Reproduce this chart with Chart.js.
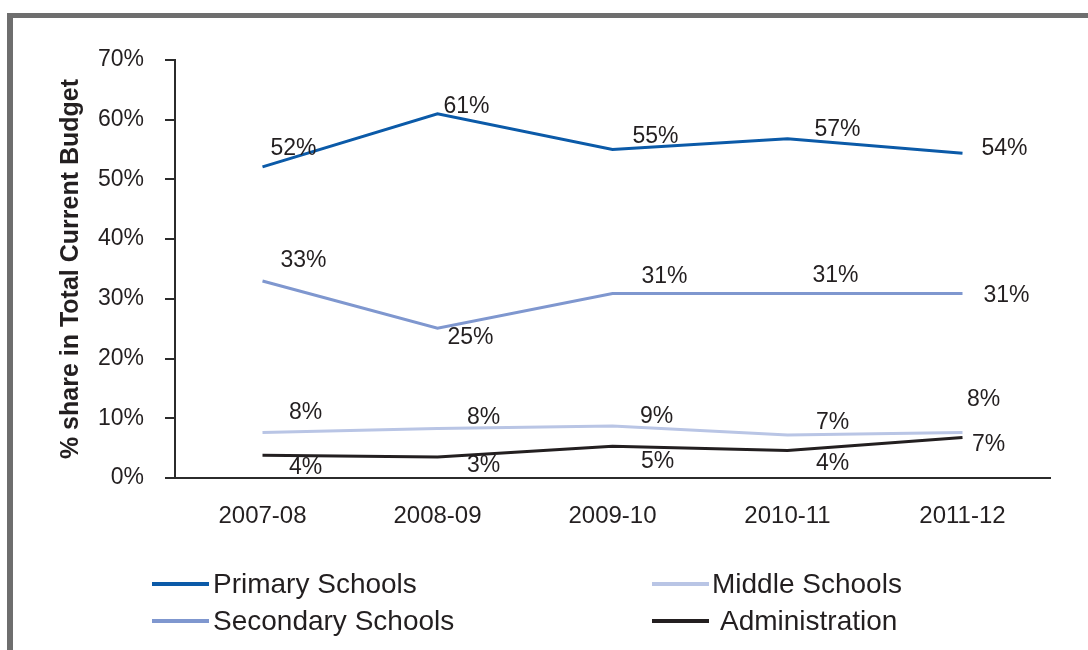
<!DOCTYPE html>
<html>
<head>
<meta charset="utf-8">
<script src="https://cdn.jsdelivr.net/npm/chart.js@4.4.1/dist/chart.umd.min.js"></script>
<style>
  html, body { margin: 0; padding: 0; background: #fff; }
  body { width: 1088px; height: 650px; position: relative; overflow: hidden; font-family: "Liberation Sans", Arial, sans-serif; }
  #frame { position: absolute; left: 7px; top: 13px; width: 1120px; height: 700px; border-top: 5px solid #6e6e6e; border-left: 6px solid #6e6e6e; }
  #wrap { position: absolute; left: 0; top: 0; width: 1088px; height: 650px; }
  .legend-item { position: absolute; height: 36px; margin-top: -18px; display: flex; align-items: center; font-size: 28px; color: #231f20; white-space: nowrap; }
  .legend-swatch { width: 57px; height: 4px; }
</style>
</head>
<body>
<div id="frame"></div>
<div id="wrap"><canvas id="budgetChart"></canvas></div>
<div id="legend"></div>
<script>
const categories = ['2007-08', '2008-09', '2009-10', '2010-11', '2011-12'];
const seriesNames = ['Primary Schools', 'Secondary Schools', 'Middle Schools', 'Administration'];

// % share in total current budget
const primary = [52.1, 61.0, 55.0, 56.8, 54.4];
const secondary = [33.0, 25.1, 30.9, 30.9, 30.9];
const middle = [7.6, 8.3, 8.7, 7.2, 7.6];
const administration = [3.8, 3.5, 5.3, 4.6, 6.8];

// printed data labels
const primaryLabels = ['52%', '61%', '55%', '57%', '54%'];
const secondaryLabels = ['33%', '25%', '31%', '31%', '31%'];
const middleLabels = ['8%', '8%', '9%', '7%', '8%'];
const administrationLabels = ['4%', '3%', '5%', '4%', '7%'];

const yTicks = [0, 10, 20, 30, 40, 50, 60, 70];

const colors = ['#0b5aa8', '#7f97cf', '#b9c5e5', '#231f20'];
const textColor = '#231f20';
const fontFamily = '"Liberation Sans", Arial, sans-serif';

// where each label sits relative to its point (px)
const labelOffsets = [
    [[31, -18], [29, -7], [43, -13], [50, -9], [42, -4]],
    [[41, -20], [33, 10], [52, -17], [48, -18], [44, 2]],
    [[43, -20], [46, -11], [44, -9], [45, -12], [21, -33]],
    [[43, 12], [46, 9], [45, 15], [45, 13], [26, 7]]
];

const pointLabels = {
    id: 'pointLabels',
    afterDatasetsDraw(chart) {
        const ctx = chart.ctx;
        ctx.save();
        ctx.font = '23px ' + fontFamily;
        ctx.fillStyle = textColor;
        ctx.textAlign = 'center';
        ctx.textBaseline = 'middle';
        chart.data.datasets.forEach((ds, i) => {
            chart.getDatasetMeta(i).data.forEach((pt, j) => {
                const off = labelOffsets[i][j];
                ctx.fillText(ds.pointLabels[j], pt.x + off[0], pt.y + off[1]);
            });
        });
        ctx.restore();
    }
};

const seriesData = [primary, secondary, middle, administration];
const seriesLabels = [primaryLabels, secondaryLabels, middleLabels, administrationLabels];

const datasets = seriesNames.map((name, i) => ({
    label: name,
    data: seriesData[i],
    pointLabels: seriesLabels[i],
    borderColor: colors[i],
    backgroundColor: colors[i],
    borderWidth: 3,
    pointRadius: 0,
    tension: 0,
    fill: false
}));

new Chart(document.getElementById('budgetChart').getContext('2d'), {
    type: 'line',
    data: { labels: categories, datasets: datasets },
    options: {
        responsive: true,
        maintainAspectRatio: false,
        animation: false,
        layout: { padding: { left: 0, top: 60, right: 38, bottom: 122 } },
        plugins: {
            legend: { display: false },
            tooltip: { enabled: false }
        },
        scales: {
            x: {
                offset: true,
                grid: { drawOnChartArea: false, drawTicks: false },
                border: { display: true, color: '#2b2b2b', width: 2 },
                ticks: { color: textColor, font: { family: fontFamily, size: 24 }, padding: 24 },
                afterFit(scale) { scale.height = 50; }
            },
            y: {
                min: 0,
                max: 70,
                afterBuildTicks(scale) { scale.ticks = yTicks.map(v => ({ value: v })); },
                grid: { drawOnChartArea: false, drawTicks: true, tickLength: 10, color: '#2b2b2b', lineWidth: 2 },
                border: { display: true, color: '#2b2b2b', width: 2 },
                ticks: {
                    color: textColor,
                    font: { family: fontFamily, size: 23 },
                    padding: 21,
                    callback: v => v + '%'
                },
                title: {
                    display: true,
                    text: '% share in Total Current Budget',
                    color: textColor,
                    font: { family: fontFamily, size: 25, weight: 'bold' },
                    padding: { top: 56, bottom: 0 }
                },
                afterFit(scale) { scale.width = 175; }
            }
        }
    },
    plugins: [pointLabels]
});

// two-column legend under the plot
const legendPos = [[152, 584, 4], [152, 621, 4], [652, 584, 3], [652, 621, 11]];
const legendEl = document.getElementById('legend');
seriesNames.forEach((name, i) => {
    const item = document.createElement('div');
    item.className = 'legend-item';
    item.style.left = legendPos[i][0] + 'px';
    item.style.top = legendPos[i][1] + 'px';
    item.innerHTML = `<span class="legend-swatch" style="background:${colors[i]};margin-right:${legendPos[i][2]}px"></span>${name}`;
    legendEl.appendChild(item);
});
</script>
</body>
</html>
